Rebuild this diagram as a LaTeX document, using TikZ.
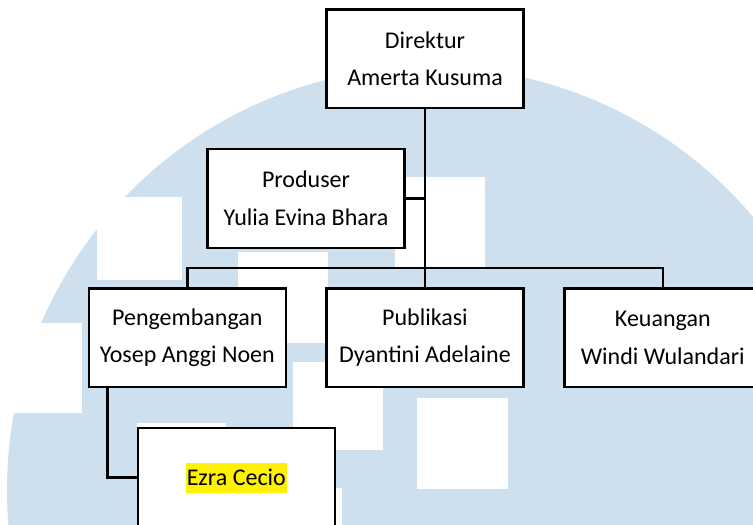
\documentclass[tikz,border=0pt]{standalone}
\usepackage{fontspec}
\setmainfont{Carlito}

\definecolor{logo blue}{RGB}{206,223,238}
\colorlet{box edge}{black}
\def\logocircle{(430,490) circle (423)}
\newcommand{\marked}[1]{{\setlength{\fboxsep}{0pt}\colorbox{yellow}{\rule[-7pt]{0pt}{30pt}\kern1pt#1\kern1pt}}}
\tikzset{unit/.style={draw=box edge, line width=2.4pt, fill=white, minimum width=197pt,
        minimum height=98.7pt, inner sep=0pt, align=center, font=\fontsize{24}{37.5}\selectfont},
    link/.style={draw=box edge, line width=2.4pt},
    patch/.style={fill=white}}

\begin{document}
\begin{tikzpicture}[x=1pt,y=-1pt]

    \useasboundingbox (0,0) rectangle (753,525);
    \clip (0,0) rectangle (753,525);

    % watermark behind the chart
    \fill[logo blue] \logocircle;
    \fill[patch] (97,197) rectangle (182,280);
    \fill[patch] (-5,323) rectangle (82,413);
    \fill[patch] (238,252) rectangle (328,343);
    \fill[patch] (293,362) rectangle (383,450);
    \fill[patch] (395,177) rectangle (485,267);
    \fill[patch] (417,398) rectangle (508,489);
    \fill[patch] (137,423) rectangle (226,513);
    \fill[patch] (252,488) rectangle (342,578);

    \node[unit] (direktur) at (425,58.8) {Direktur\\Amerta Kusuma};
    \node[unit] (produser) at (306,198.4) {Produser\\Yulia Evina Bhara};
    \node[unit] (pengembangan) at (187.3,337.7) {Pengembangan\\Yosep Anggi Noen};
    \node[unit] (publikasi) at (425,337.7) {Publikasi\\Dyantini Adelaine};
    \node[unit] (keuangan) at (662.8,337.7) {Keuangan\\Windi Wulandari};
    \node[unit] (ezra) at (236.3,477.5) {\marked{Ezra Cecio}};

    \coordinate (bus) at (425,267.8);
    \draw[link] (direktur.south) -- (publikasi.north);
    \draw[link] (produser.east) -- (produser.east -| direktur.south);
    \draw[link] (pengembangan.north) |- (bus) -| (keuangan.north);
    \draw[link] ([xshift=20pt]pengembangan.south west) |- (ezra.west);

\end{tikzpicture}
\end{document}
